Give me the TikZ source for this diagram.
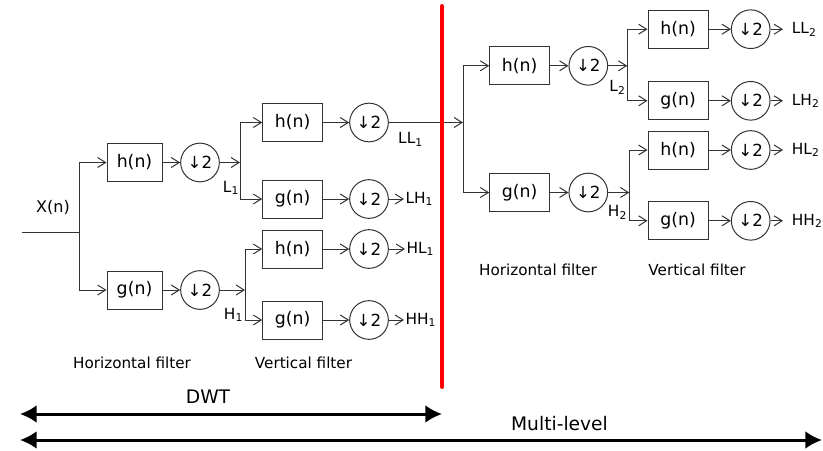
\documentclass[tikz,border=0pt]{standalone}
\usepackage{fontspec}
\setmainfont{DejaVu Sans}
\usetikzlibrary{arrows.meta,positioning}

\begin{document}
\begin{tikzpicture}[
  x=0.75pt, y=-0.75pt,
  >={Straight Barb[length=6pt,width=7.5pt]},
  sig/.style={->,line width=0.75pt,draw=black!80},
  wire/.style={line width=0.75pt,draw=black!80},
  filt/.style={draw=black!80,line width=0.75pt,minimum width=45pt,
               minimum height=28.5pt,inner sep=0pt,
               font=\fontsize{13}{15}\selectfont},
  filtA/.style={filt,minimum width=41.25pt},
  down/.style={circle,draw=black!80,line width=0.75pt,minimum size=29pt,
               inner sep=0pt,font=\fontsize{12.5}{14}\selectfont},
  lbl/.style={inner sep=1pt,font=\fontsize{11.5}{13}\selectfont},
  outlbl/.style={lbl,anchor=west},
  stage/.style={font=\fontsize{11.4}{13}\selectfont},
  span/.style={{Latex[length=12.5pt,width=13.5pt]}-{Latex[length=12.5pt,width=13.5pt]},
               line width=2.25pt},
  border/.style={draw=red,line width=3pt,line cap=round}
]
\useasboundingbox (0,0) rectangle (823,450);

% level 1, horizontal filter
\coordinate (xin) at (22,232);
\coordinate (j0) at (79,232);
\node[lbl,font=\fontsize{12}{14}\selectfont] (xn) at (53,207) {X(n)};
\node[filtA] (h1) at (134.5,162.5) {h(n)};
\node[filtA] (g1) at (134.5,290) {g(n)};
\node[down] (d1h) at (200,162.5) {↓2};
\node[down] (d1g) at (200,290) {↓2};
\coordinate (jL1) at (240,162.5);
\coordinate (jH1) at (245,290);
\node[lbl] (L1) at (231,188) {L\textsubscript{1}};
\node[lbl] (H1) at (233.5,315) {H\textsubscript{1}};

% level 1, vertical filter
\node[filt] (hLL1) at (292.7,122.5) {h(n)};
\node[filt] (gLH1) at (292.7,199) {g(n)};
\node[filt] (hHL1) at (292.7,249) {h(n)};
\node[filt] (gHH1) at (292.7,320) {g(n)};
\node[down] (dLL1) at (369,122.5) {↓2};
\node[down] (dLH1) at (369,199) {↓2};
\node[down] (dHL1) at (369,249) {↓2};
\node[down] (dHH1) at (369,320) {↓2};
\node[lbl] (LL1) at (410.5,139.5) {LL\textsubscript{1}};
\node[outlbl] (LH1) at (404,199) {LH\textsubscript{1}};
\node[outlbl] (HL1) at (405,249) {HL\textsubscript{1}};
\node[outlbl] (HH1) at (404,320) {HH\textsubscript{1}};

\node[stage] (hf1) at (132,363) {Horizontal filter};
\node[stage] (vf1) at (303.5,363) {Vertical filter};

% level 2, horizontal filter
\coordinate (j2) at (463,122.5);
\node[filt] (h2) at (519.7,65.8) {h(n)};
\node[filt] (g2) at (519.7,192.5) {g(n)};
\node[down] (d2h) at (588.3,65.8) {↓2};
\node[down] (d2g) at (588.3,192.5) {↓2};
\coordinate (jL2) at (627.3,65.8);
\coordinate (jH2) at (629.3,192.5);
\node[lbl] (L2) at (617.5,87.5) {L\textsubscript{2}};
\node[lbl] (H2) at (617.5,212.5) {H\textsubscript{2}};

% level 2, vertical filter
\node[filt] (hLL2) at (678,29.2) {h(n)};
\node[filt] (gLH2) at (678,100.8) {g(n)};
\node[filt] (hHL2) at (678,150) {h(n)};
\node[filt] (gHH2) at (678,220.8) {g(n)};
\node[down] (dLL2) at (750.7,29.2) {↓2};
\node[down] (dLH2) at (750.7,100.8) {↓2};
\node[down] (dHL2) at (750.7,150) {↓2};
\node[down] (dHH2) at (750.7,220.8) {↓2};
\node[outlbl,inner xsep=6.5pt] (LL2) at (783,29.2) {LL\textsubscript{2}};
\node[outlbl,inner xsep=6.5pt] (LH2) at (783,100.8) {LH\textsubscript{2}};
\node[outlbl,inner xsep=6.5pt] (HL2) at (783,150) {HL\textsubscript{2}};
\node[outlbl,inner xsep=6.5pt] (HH2) at (783,220.8) {HH\textsubscript{2}};

\node[stage] (hf2) at (538,270) {Horizontal filter};
\node[stage] (vf2) at (697,270) {Vertical filter};

% connections
\draw[wire] (xin) -- (j0);
\draw[sig] (j0) |- (h1);
\draw[sig] (j0) |- (g1);
\draw[sig] (h1) -- (d1h);
\draw[sig] (g1) -- (d1g);
\draw[sig] (d1h) -- (jL1);
\draw[sig] (d1g) -- (jH1);
\draw[sig] (jL1) |- (hLL1);
\draw[sig] (jL1) |- (gLH1);
\draw[sig] (jH1) |- (hHL1);
\draw[sig] (jH1) |- (gHH1);
\draw[sig] (hLL1) -- (dLL1);
\draw[sig] (gLH1) -- (dLH1);
\draw[sig] (hHL1) -- (dHL1);
\draw[sig] (gHH1) -- (dHH1);
\draw[sig] (dLL1) -- (j2);
\draw[sig] (dLH1) -- (LH1);
\draw[sig] (dHL1) -- (HL1);
\draw[sig] (dHH1) -- (HH1);

\draw[sig] (j2) |- (h2);
\draw[sig] (j2) |- (g2);
\draw[sig] (h2) -- (d2h);
\draw[sig] (g2) -- (d2g);
\draw[sig] (d2h) -- (jL2);
\draw[sig] (d2g) -- (jH2);
\draw[sig] (jL2) |- (hLL2);
\draw[sig] (jL2) |- (gLH2);
\draw[sig] (jH2) |- (hHL2);
\draw[sig] (jH2) |- (gHH2);
\draw[sig] (hLL2) -- (dLL2);
\draw[sig] (gLH2) -- (dLH2);
\draw[sig] (hHL2) -- (dHL2);
\draw[sig] (gHH2) -- (dHH2);
\draw[sig] (dLL2) -- (LL2);
\draw[sig] (dLH2) -- (LH2);
\draw[sig] (dHL2) -- (HL2);
\draw[sig] (dHH2) -- (HH2);

% level border and spans
\draw[border] (442,6) -- (442,387);
\coordinate (dwtL) at (20,414);
\coordinate (dwtR) at (442,414);
\coordinate (mlL) at (20,440);
\coordinate (mlR) at (822,440);
\node[font=\fontsize{14}{16}\selectfont] (dwt) at (208,397) {DWT};
\node[font=\fontsize{14}{16}\selectfont] (multi) at (559.5,423.5) {Multi-level};
\draw[span] (dwtL) -- (dwtR);
\draw[span] (mlL) -- (mlR);
\end{tikzpicture}
\end{document}
